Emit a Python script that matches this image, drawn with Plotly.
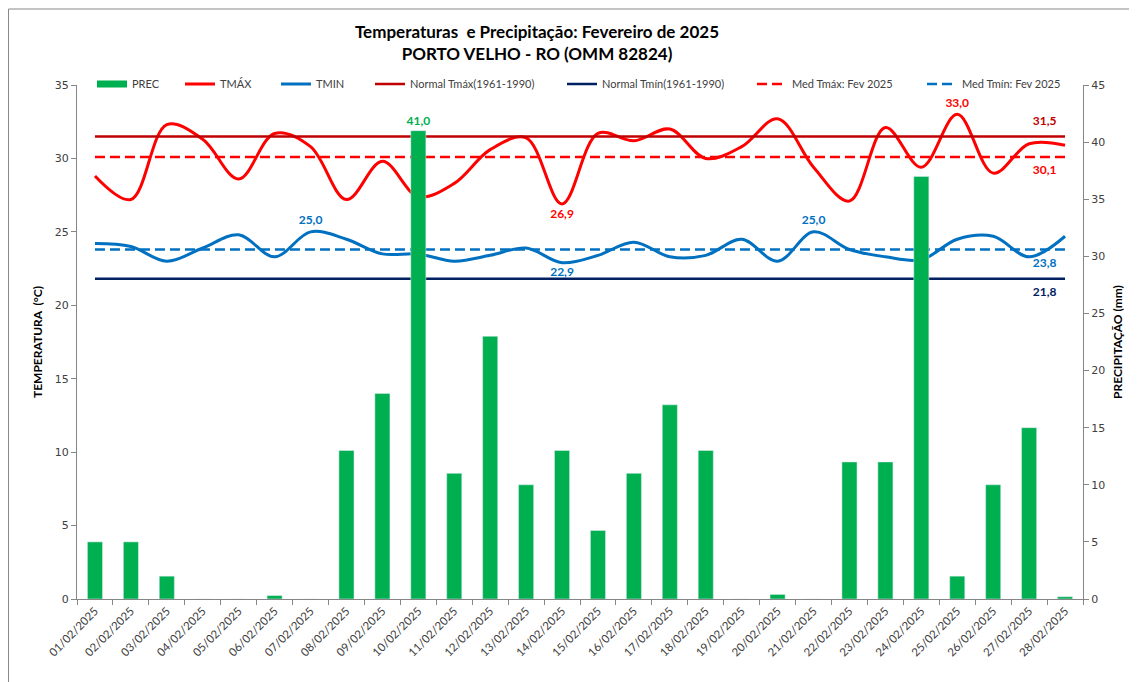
import plotly.graph_objects as go

dates = [f"{d:02d}/02/2025" for d in range(1, 29)]
prec = [5.0, 5.0, 2.0, 0, 0, 0.3, 0, 13.0, 18.0, 41.0, 11.0, 23.0, 10.0, 13.0,
        6.0, 11.0, 17.0, 13.0, 0, 0.4, 0, 12.0, 12.0, 37.0, 2.0, 10.0, 15.0, 0.2]
tmax = [28.8, 27.2, 32.3, 31.3, 28.6, 31.7, 30.8, 27.2, 29.8, 27.4, 28.3, 30.6, 31.4, 26.9,
        31.7, 31.2, 32.0, 30.0, 30.8, 32.7, 29.4, 27.1, 32.1, 29.4, 33.0, 29.0, 31.0, 30.9]
tmin = [24.2, 24.0, 23.0, 23.9, 24.8, 23.3, 25.0, 24.5, 23.5, 23.5, 23.0, 23.4, 23.9, 22.9,
        23.4, 24.3, 23.3, 23.4, 24.5, 23.0, 25.0, 23.8, 23.3, 23.1, 24.5, 24.7, 23.3, 24.7]
normal_tmax = 31.5
normal_tmin = 21.8
med_tmax = 30.1
med_tmin = 23.8

GREEN = "#00B050"
RED = "#FF0000"
BLUE = "#0070C0"
DARKRED = "#C00000"
NAVY = "#002060"
FONT = "Lato"


def fmt(v):
    return f"{v:.1f}".replace(".", ",")


def label_extremes(vals, hi_pos, lo_pos):
    mx, mn = max(vals), min(vals)
    texts, pos = [], []
    for v in vals:
        if v == mx:
            texts.append(fmt(v)); pos.append(hi_pos)
        elif v == mn:
            texts.append(fmt(v)); pos.append(lo_pos)
        else:
            texts.append(""); pos.append("top center")
    return texts, pos


def add_labels(fig, yvals, texts, positions, color, msize):
    # text-only trace used for data labels (no legend entry)
    fig.add_trace(go.Scatter(x=dates, y=yvals, mode="markers+text", showlegend=False,
                             hoverinfo="skip",
                             marker=dict(size=msize, opacity=0, color=color),
                             text=texts, textposition=positions, cliponaxis=False,
                             textfont=dict(family=FONT, size=12, color=color, weight="bold")))


fig = go.Figure()

# Precipitation bars (y2)
bar_text = [fmt(v) if v == max(prec) else "" for v in prec]
fig.add_trace(go.Bar(x=dates, y=prec, yaxis="y2", marker=dict(color=GREEN),
                     text=bar_text, textposition="outside", cliponaxis=False,
                     constraintext="none",
                     textfont=dict(family=FONT, size=12, color=GREEN, weight="bold"),
                     showlegend=False, name="PREC"))
# legend stand-in for PREC
fig.add_trace(go.Scatter(x=[dates[0]], y=[None], mode="lines", name="PREC",
                         line=dict(color=GREEN, width=7), legend="legend"))

fig.add_trace(go.Scatter(x=dates, y=tmax, mode="lines", name="TMÁX",
                         line=dict(color=RED, width=3, shape="spline", smoothing=1.0),
                         legend="legend2"))
fig.add_trace(go.Scatter(x=dates, y=tmin, mode="lines", name="TMIN",
                         line=dict(color=BLUE, width=3, shape="spline", smoothing=1.0),
                         legend="legend3"))

refs = [
    ("Normal Tmáx(1961-1990)", normal_tmax, DARKRED, "solid", "top left", "legend4"),
    ("Normal Tmín(1961-1990)", normal_tmin, NAVY, "solid", "bottom left", "legend5"),
    ("Med Tmáx: Fev 2025", med_tmax, RED, "10px,5px", "bottom left", "legend6"),
    ("Med Tmín: Fev 2025", med_tmin, BLUE, "10px,5px", "bottom left", "legend7"),
]
for name, val, color, dash, pos, lg in refs:
    fig.add_trace(go.Scatter(x=dates, y=[val] * len(dates), mode="lines", name=name,
                             line=dict(color=color, width=2.5, dash=dash), legend=lg))

# data labels
tx_text, tx_pos = label_extremes(tmax, "top center", "bottom center")
add_labels(fig, tmax, tx_text, tx_pos, RED, 6)
tn_text, tn_pos = label_extremes(tmin, "top center", "bottom center")
add_labels(fig, tmin, tn_text, tn_pos, BLUE, 6)
for name, val, color, dash, pos, lg in refs:
    add_labels(fig, [val] * len(dates), [""] * (len(dates) - 1) + [fmt(val)], pos, color, 12)

# page has an 8px body margin; figure overflows the window on right/bottom
W, H = 1137, 682
L, T = 69, 77
PW, PH = 1006, 514
R = W - L - PW
B = H - T - PH


def px_x(p):
    return (p - L) / PW


def px_y(p):
    return (H - B - p) / PH


legend_starts = [84, 172, 268, 362, 554, 744, 914]
legend_common = dict(orientation="h", yanchor="middle", xanchor="left",
                     xref="container", yref="container",
                     font=dict(family=FONT, size=11, color="#404040"),
                     bgcolor="rgba(0,0,0,0)", itemwidth=30)
layout_legends = {}
for i, xs in enumerate(legend_starts):
    key = "legend" if i == 0 else f"legend{i + 1}"
    layout_legends[key] = dict(legend_common, x=xs / W, y=1 - 76 / H)

axis_line = "#868686"
border = dict(color="#888888", width=1)
fig.update_layout(
    width=W, height=H,
    margin=dict(l=L, r=R, t=T, b=B, autoexpand=False),
    paper_bgcolor="white", plot_bgcolor="white",
    bargap=0.58,
    title=dict(text="<b>Temperaturas  e Precipitação: Fevereiro de 2025<br>PORTO VELHO - RO (OMM 82824)</b>",
               x=529 / W, xanchor="center", y=1 - 30 / H, yanchor="middle",
               font=dict(family=FONT, size=17, color="black"), automargin=False),
    xaxis=dict(type="category", range=[-0.5, 27.5], tickangle=-45, tickson="boundaries",
               ticks="outside", automargin=False,
               ticklen=5, tickcolor=axis_line, showline=True, linecolor=axis_line,
               linewidth=1, showgrid=False,
               tickfont=dict(family=FONT, size=11.5, color="#404040")),
    yaxis=dict(range=[0, 35], dtick=5, ticks="outside", ticklen=5, tickcolor=axis_line,
               showline=True, linecolor=axis_line, showgrid=False, zeroline=False,
               automargin=False,
               tickfont=dict(family="DejaVu Sans", size=11, color="#404040"),
               title=dict(text="<b>TEMPERATURA  (°C)</b>", standoff=9,
                          font=dict(family=FONT, size=12, color="black"))),
    yaxis2=dict(range=[0, 45], dtick=5, overlaying="y", side="right", ticks="outside",
                ticklen=5, tickcolor=axis_line, showline=True, linecolor=axis_line,
                showgrid=False, zeroline=False, automargin=False,
                tickfont=dict(family="DejaVu Sans", size=11, color="#404040"),
                title=dict(text="<b>PRECIPITAÇÃO (mm)</b>", standoff=9,
                           font=dict(family=FONT, size=12, color="black"))),
    shapes=[
        dict(type="line", xref="paper", yref="paper", x0=px_x(0.5), x1=px_x(W),
             y0=px_y(1), y1=px_y(1), line=border, layer="below"),
        dict(type="line", xref="paper", yref="paper", x0=px_x(0.5), x1=px_x(0.5),
             y0=px_y(1), y1=px_y(H), line=border, layer="below"),
    ],
    **layout_legends,
)

fig.write_html("out.html")
